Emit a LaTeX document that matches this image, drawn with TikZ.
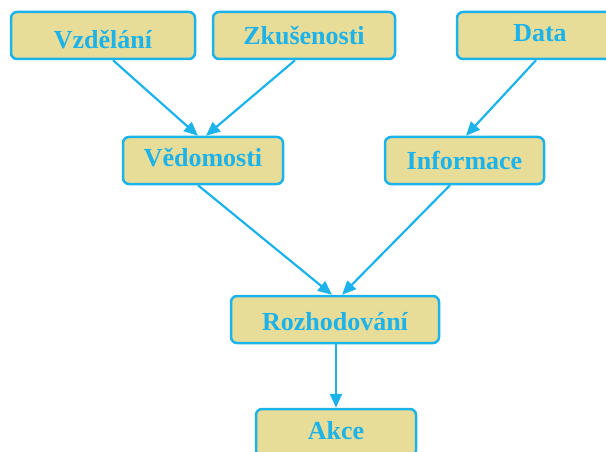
\documentclass[tikz,border=0pt]{standalone}
\usepackage{fontspec}
\setmainfont{Liberation Serif}
\usetikzlibrary{arrows.meta}
\definecolor{cyanline}{HTML}{1CB2EA}
\definecolor{khaki}{HTML}{E8DD98}
\tikzset{
  box/.style={draw=cyanline, fill=khaki, line width=2.5pt, rounded corners=6pt,
    minimum height=47pt, inner sep=0pt, text=cyanline, text depth=0pt,
    font=\fontsize{26}{28}\selectfont\bfseries},
  link/.style={draw=cyanline, line width=2.2pt,
    -{Triangle[length=14pt,width=12pt]}}
}
\begin{document}
\begin{tikzpicture}[x=1pt,y=-1pt]
  \useasboundingbox (0,0) rectangle (606,452);
  \clip (0,0) rectangle (606,452);
  % text height sets where each label's baseline sits inside its box
  \node[box, minimum width=184pt, text height=27pt] (vz) at (103,35.5) {Vzdělání};
  \node[box, minimum width=182pt, text height=18pt] (zk) at (304,35.5) {Zkušenosti};
  \node[box, minimum width=166pt, text height=12pt] (da) at (540,35.5) {Data};
  \node[box, minimum width=160pt, text height=12pt] (ve) at (203,160.5) {Vědomosti};
  \node[box, minimum width=159pt, text height=18pt] (in) at (464.5,160.5) {Informace};
  \node[box, minimum width=208pt, text height=22pt] (ro) at (335,319.5) {Rozhodování};
  \node[box, minimum width=160pt, text height=14pt] (ak) at (336,432.5) {Akce};

  \draw[link] ([xshift=10pt]vz.south) -- ([xshift=-5pt]ve.north);
  \draw[link] ([xshift=-9pt]zk.south) -- ([xshift=3pt]ve.north);
  \draw[link] ([xshift=-4pt]da.south) -- ([xshift=1.5pt]in.north);
  \draw[link] ([xshift=-5pt]ve.south) -- ([xshift=-3pt]ro.north);
  \draw[link] ([xshift=-14.5pt]in.south) -- ([xshift=7pt]ro.north);
  \draw[link] ([xshift=1pt]ro.south) -- (ak.north);
\end{tikzpicture}
\end{document}
